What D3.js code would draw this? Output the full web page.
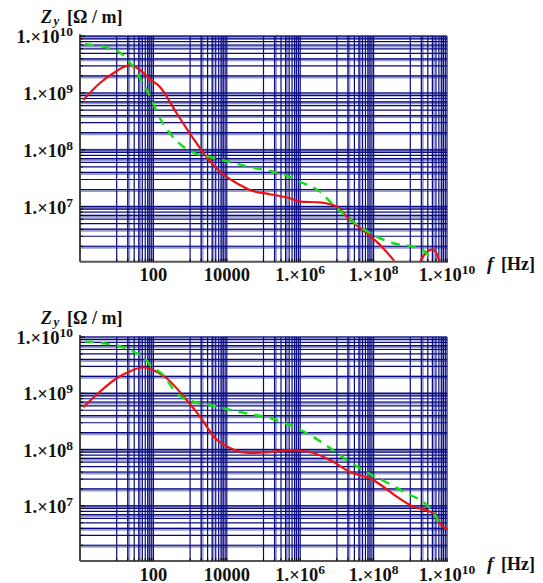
<!DOCTYPE html>
<html>
<head>
<meta charset="utf-8">
<script src="https://cdn.jsdelivr.net/npm/d3@7"></script>
<style>
  body { margin: 0; background: #fff; }
  svg { display: block; }
  text { font-family: "Liberation Serif", "Times New Roman", serif; font-weight: bold; fill: #111; }
</style>
</head>
<body>
<svg width="543" height="583"></svg>
<script>
/* Z_y vs f, two panels (log-log) */

// top panel
var freqRedTop = [1.23, 3.5, 10, 16.5, 21.5, 27.5, 43, 81, 151, 431, 1222, 2546, 4770, 1.08e4, 2.29e4, 4.29e4,
    1.5e5, 5.27e5, 9.9e5, 3.46e6, 6.5e6, 9.9e6, 2.28e7, 6.5e7, 1.67e8, 3.8e8, 7.2e8,
    1.3e9, 1.84e9, 3.1e9, 4.07e9, 5.2e9, 6.17e9, 7.3e9];
var zRedTop = [7.5e8, 1.5e9, 2.44e9, 2.92e9, 3.08e9, 3.0e9, 2.54e9, 1.76e9, 1.28e9, 4.4e8, 1.58e8, 8.1e7, 4.98e7, 3.19e7, 2.4e7, 1.96e7,
    1.65e7, 1.4e7, 1.22e7, 1.19e7, 1.1e7, 9.96e6, 5.8e6, 3.39e6, 1.97e6, 1.07e6, 6.3e5,
    6.3e5, 1.07e6, 1.67e6, 1.77e6, 1.5e6, 1.07e6, 6.3e5];

var freqGreenTop = [1.37, 5.8, 14.4, 29.6, 52.7, 86, 136, 283, 641, 1361, 3480, 1.22e4, 4.29e4, 1.5e5,
    5.27e5, 9.9e5, 3.46e6, 7.98e6, 1.85e7, 4.26e7, 1.21e8, 3.44e8, 1.19e9, 2.22e9, 2.85e9, 3.66e9, 4.4e9];
var zGreenTop = [7.2e9, 6.25e9, 4.74e9, 2.72e9, 1.49e9, 8.07e8, 4.1e8, 1.95e8, 1.14e8, 8.67e7, 7.46e7, 6.1e7, 4.98e7, 4.24e7,
    3.32e7, 2.74e7, 1.83e7, 1.07e7, 6.64e6, 4.43e6, 2.95e6, 2.26e6, 1.97e6, 1.72e6, 1.47e6, 1.06e6, 6.3e5];

// bottom panel
var freqRedBot = [1.23, 3.5, 10, 28.3, 53, 99, 230, 807, 1862, 4770, 1.22e4, 4.29e4, 1.5e5, 5.27e5, 1.85e6,
    6.5e6, 2.28e7, 9.8e7, 1.84e8, 4.26e8, 1.21e9, 3.44e9, 5.24e9, 6.44e9, 1.04e10];
var zRedBot = [5.64e8, 1.07e9, 1.85e9, 2.6e9, 2.9e9, 2.6e9, 1.85e9, 7.6e8, 3.84e8, 1.61e8, 1.07e8, 8.7e7, 9.07e7, 9.84e7, 9.07e7,
    6.53e7, 4.0e7, 2.88e7, 2.19e7, 1.46e7, 9.7e6, 7.9e6, 6.4e6, 4.9e6, 3.84e6];

var freqGreenBot = [1.37, 4.3, 15.1, 35, 53, 81, 186, 431, 1222, 3480, 1.22e4, 4.29e4, 1.5e5, 5.27e5,
    1.85e6, 6.5e6, 2.28e7, 8e7, 3.1e8, 8e8, 2.52e9, 3.44e9, 4.7e9, 6.17e9];
var zGreenBot = [8.26e9, 7.73e9, 6.56e9, 5.13e9, 4.47e9, 3.18e9, 2.11e9, 1e9, 7.1e8, 6.2e8, 5.05e8, 4.29e8, 3.64e8, 2.73e8,
    1.82e8, 1.07e8, 6.0e7, 3.69e7, 2.35e7, 1.67e7, 1.11e7, 9.06e6, 6.9e6, 4.9e6];

// tick labels
var xTickExp = [2, 4, 6, 8, 10];
var xTickText = ["100", "10000", null, null, null];
var yTickExp = [7, 8, 9, 10];

var svg = d3.select("svg");

var panels = [
    { top: 36.2, bottom: 261.7, zmin: 1.07e6, red: [freqRedTop, zRedTop], green: [freqGreenTop, zGreenTop], id: "a" },
    { top: 337, bottom: 561, zmin: 1.05e6, red: [freqRedBot, zRedBot], green: [freqGreenBot, zGreenBot], id: "b" }
];

var left = 80, right = 447;
var x = d3.scaleLog().domain([1, 1e10]).range([left, right]);

function mant(v) {
    return Math.round(v / Math.pow(10, Math.floor(Math.log10(v) + 1e-9)));
}

// vertical grid: 10^(2j) lines plus full minor set in the odd decades
var xGrid = [];
for (var j = 0; j <= 4; j++) {
    if (j > 0) xGrid.push(Math.pow(10, 2 * j));
    for (var m = 1; m <= 9; m++) xGrid.push(m * Math.pow(10, 2 * j + 1));
}
xGrid.push(1e10);
var xPale = xGrid.filter(function (v) { var m = mant(v); return m === 2 || m === 4 || m === 7; });

function sup(sel, base, exp, size) {
    sel.append("tspan").text(base);
    sel.append("tspan").attr("dy", -7).style("font-size", size + "px").text(exp);
}

panels.forEach(function (p) {
    var y = d3.scaleLog().domain([p.zmin, 1e10]).range([p.bottom, p.top]);
    var g = svg.append("g");

    var yGrid = [];
    for (var k = 6; k <= 9; k++) {
        for (var m = 1; m <= 9; m++) {
            var v = m * Math.pow(10, k);
            if (v >= p.zmin) yGrid.push(v);
        }
    }
    yGrid.push(1e10);
    var yPale = yGrid.filter(function (v) { var m = mant(v); return m === 1 || m === 2 || m === 4 || m === 7; });

    // pale wide grid bands
    g.append("g").selectAll("line").data(yPale).enter().append("line")
        .attr("x1", left).attr("x2", right)
        .attr("y1", function (d) { return y(d) + 1; }).attr("y2", function (d) { return y(d) + 1; })
        .attr("stroke", "rgba(20,30,140,0.45)")
        .attr("stroke-width", function (d) { return mant(d) === 1 ? 4 : 3; });
    g.append("g").selectAll("line").data(xPale).enter().append("line")
        .attr("y1", p.top).attr("y2", p.bottom)
        .attr("x1", function (d) { return x(d) + 1; }).attr("x2", function (d) { return x(d) + 1; })
        .attr("stroke", "rgba(20,30,140,0.4)")
        .attr("stroke-width", 3);

    // dark thin grid
    g.append("g").selectAll("line").data(yGrid).enter().append("line")
        .attr("x1", left).attr("x2", right)
        .attr("y1", function (d) { return y(d); }).attr("y2", function (d) { return y(d); })
        .attr("stroke", "#0a0a80").attr("stroke-width", 1.2);
    g.append("g").selectAll("line").data(xGrid).enter().append("line")
        .attr("y1", p.top).attr("y2", p.bottom)
        .attr("x1", function (d) { return x(d); }).attr("x2", function (d) { return x(d); })
        .attr("stroke", "#0a0a80").attr("stroke-width", 1.2);

    // axes
    g.append("line").attr("x1", left).attr("x2", left).attr("y1", p.top - 2).attr("y2", p.bottom)
        .attr("stroke", "#444").attr("stroke-width", 2);
    g.append("line").attr("x1", left).attr("x2", right + 1).attr("y1", p.bottom).attr("y2", p.bottom)
        .attr("stroke", "#555").attr("stroke-width", 2);

    g.append("g").selectAll("line").data(yGrid).enter().append("line")
        .attr("x1", left).attr("x2", function (d) { return left + (mant(d) === 1 ? 5 : 3); })
        .attr("y1", function (d) { return y(d); }).attr("y2", function (d) { return y(d); })
        .attr("stroke", "#000").attr("stroke-width", 1);
    g.append("g").selectAll("line").data(xGrid).enter().append("line")
        .attr("y1", p.bottom).attr("y2", p.bottom - 3)
        .attr("x1", function (d) { return x(d); }).attr("x2", function (d) { return x(d); })
        .attr("stroke", "#000").attr("stroke-width", 1);

    // curves
    svg.append("clipPath").attr("id", "clip" + p.id).append("rect")
        .attr("x", left).attr("y", p.top - 2).attr("width", right - left + 2).attr("height", p.bottom - p.top + 1);

    var line = d3.line()
        .x(function (d) { return x(d[0]); })
        .y(function (d) { return y(d[1]); })
        .curve(d3.curveMonotoneX);

    var redPts = d3.zip(p.red[0], p.red[1]);
    var greenPts = d3.zip(p.green[0], p.green[1]);

    g.append("path").datum(redPts)
        .attr("clip-path", "url(#clip" + p.id + ")")
        .attr("d", line).attr("fill", "none")
        .attr("stroke", "#ee1111").attr("stroke-width", 2.2);
    g.append("path").datum(greenPts)
        .attr("clip-path", "url(#clip" + p.id + ")")
        .attr("d", line).attr("fill", "none")
        .attr("stroke", "#11e011").attr("stroke-width", 2.4)
        .attr("stroke-dasharray", "9,7");

    // y tick labels
    yTickExp.forEach(function (e) {
        var t = g.append("text").attr("x", 73).attr("y", y(Math.pow(10, e)) + 7)
            .attr("text-anchor", "end").style("font-size", "18.5px");
        sup(t, "1.\u00D710", e, 13.5);
    });

    // x tick labels
    xTickExp.forEach(function (e, i) {
        var t = g.append("text").attr("x", x(Math.pow(10, e))).attr("y", p.bottom + 19.5)
            .attr("text-anchor", "middle").style("font-size", "18.5px");
        if (xTickText[i]) t.text(xTickText[i]);
        else sup(t, "1.\u00D710", e, 13.5);
    });

    // axis titles
    var ty = p.top - 13.5;
    g.append("text").attr("x", 41).attr("y", ty).style("font-size", "18px").style("font-style", "italic").text("Z");
    g.append("text").attr("x", 53.5).attr("y", ty + 2.5).style("font-size", "13px").style("font-style", "italic").text("y");
    g.append("text").attr("x", 67).attr("y", ty).style("font-size", "18px").text("[\u03A9 / m]");

    var fy = p.bottom + 8.5;
    g.append("text").attr("x", 487).attr("y", fy).style("font-size", "19px").style("font-style", "italic").text("f");
    g.append("text").attr("x", 501).attr("y", fy).style("font-size", "18px").text("[Hz]");
});
</script>
</body>
</html>
